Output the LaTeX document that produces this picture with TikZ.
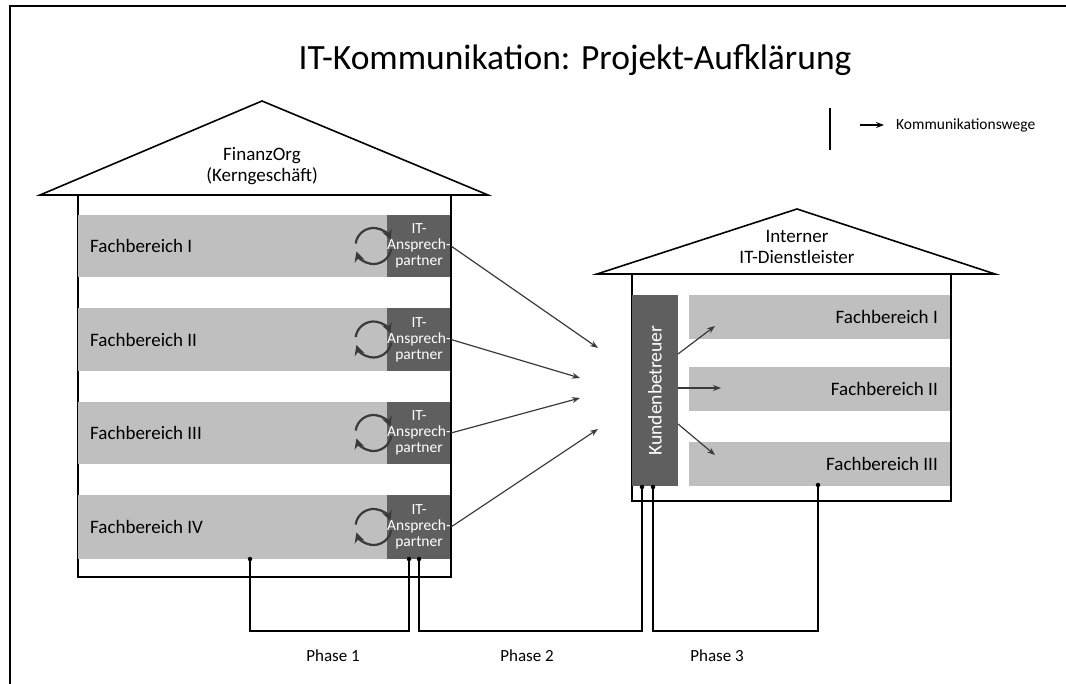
\documentclass[tikz,border=0pt]{standalone}
\usepackage{fontspec}
\setmainfont{Carlito}
\usetikzlibrary{arrows.meta,calc}
\definecolor{lightg}{HTML}{BFBFBF}
\definecolor{darkg}{HTML}{5F5F5F}
\definecolor{arrg}{HTML}{3A3A3A}
\begin{document}
\begin{tikzpicture}[x=1pt,y=-1pt,
  band/.style={fill=lightg,draw=none,inner sep=0pt,outer sep=0pt,anchor=north west},
  dbox/.style={fill=darkg,draw=none,inner sep=0pt,outer sep=0pt,anchor=north west,text=white,align=center,font=\fontsize{15.5}{16}\selectfont},
  lbl/.style={font=\fontsize{19}{21}\selectfont,inner sep=0pt},
  wall/.style={draw=black,line width=1.8pt},
  roof/.style={draw=black,line width=1.6pt,fill=white,line join=miter},
  comm/.style={draw=arrg,line width=1.2pt,-{Stealth[length=8pt,width=6pt]}},
  circ/.style={draw=arrg,line width=2.2pt,-{Stealth[length=10pt,width=10pt]}},
  phase/.style={draw=black,line width=1.6pt},
  dot/.style={circle,fill=black,inner sep=0pt,minimum size=4.5pt}
]
\useasboundingbox (0,0) rectangle (1066,684);
% outer frame (top and left)
\draw[line width=2.5pt] (10,684) -- (10,6) -- (1066,6);
% title
\node[font=\fontsize{35.5}{40}\selectfont,inner sep=0pt] (title) at (575,60) {IT-Kommunikation: Projekt-Aufklärung};
% legend
\draw[line width=1.5pt] (830,108) -- (830,150);
\coordinate (lgA) at (860,125);
\coordinate (lgB) at (884,125);
\draw[comm,draw=black] (lgA) -- (lgB);
\node[anchor=west,font=\fontsize{15.5}{17}\selectfont,inner sep=0pt] (legtext) at (896,125) {Kommunikationswege};

% ===== left house =====
\draw[wall] (78,195) rectangle (451,577);
\draw[roof] (40,195) -- (262,101) -- (488,195) -- cycle;
\node[lbl,align=center] (finorg) at (262,166) {FinanzOrg\\(Kerngeschäft)};

\foreach \i/\t/\y/\h in {1/I/215/62,2/II/308/63,3/III/402/62,4/IV/495/64}{
  \node[band,minimum width=309pt,minimum height=\h pt] (fb\i) at (78,\y) {};
  \node[lbl,anchor=west] (fbt\i) at ([xshift=12pt]fb\i.west) {Fachbereich \t};
  \node[dbox,minimum width=64pt,minimum height=\h pt] (ita\i) at (387,\y) {IT-\\Ansprech-\\partner};
  \coordinate (cc\i) at ($(fb\i.center)+(141,0)$);
  \draw[circ] ($(cc\i)+(-172:18)$) arc[start angle=-172,end angle=-20,radius=18];
  \draw[circ] ($(cc\i)+(10:18)$) arc[start angle=10,end angle=162,radius=18];
}
% redraw right wall on top of dark boxes
\draw[wall] (451,195) -- (451,577);

% communication arrows to IT service provider
\coordinate (t1) at (598,348);
\coordinate (t2) at (580,378);
\coordinate (t3) at (580,398);
\coordinate (t4) at (598,429);
\foreach \i in {1,2,3,4}{ \draw[comm] (ita\i.east) -- (t\i); }

% ===== right house =====
\draw[wall] (632,274) rectangle (951,501);
\draw[roof] (597,274) -- (797,209) -- (995,274) -- cycle;
\node[lbl,align=center] (itdl) at (797,247) {Interner\\IT-Dienstleister};

\node[band,fill=darkg,minimum width=46pt,minimum height=191pt] (kb) at (632,295) {};
\node[lbl,font=\fontsize{19.5}{21}\selectfont,rotate=90,text=white] (kbt) at (kb.center) {Kundenbetreuer};
\foreach \i/\t/\y in {1/I/295,2/II/367,3/III/442}{
  \node[band,minimum width=261pt,minimum height=44pt] (rfb\i) at (689,\y) {};
  \node[lbl,anchor=east] (rfbt\i) at ([xshift=-12pt]rfb\i.east) {Fachbereich \t};
}
\draw[wall] (951,274) -- (951,501);
\coordinate (k1) at (678,354);
\coordinate (k2) at (678,388);
\coordinate (k3) at (678,424);
\coordinate (e1) at (715,326);
\coordinate (e2) at (721,388);
\coordinate (e3) at (715,455);
\draw[comm] (k1) -- (e1);
\draw[comm] (k2) -- (e2);
\draw[comm] (k3) -- (e3);

% ===== phases =====
\coordinate (p1s) at (250,559);
\coordinate (p1e) at (409,559);
\coordinate (p2s) at (419,559);
\coordinate (p2e) at (642,487);
\coordinate (p3s) at (653,487);
\coordinate (p3e) at (818,485);
\draw[phase] (p1s) -- (p1s |- 0,631) -- (p1e |- 0,631) -- (p1e);
\draw[phase] (p2s) -- (p2s |- 0,631) -- (p2e |- 0,631) -- (p2e);
\draw[phase] (p3s) -- (p3s |- 0,631) -- (p3e |- 0,631) -- (p3e);
\foreach \p in {p1s,p1e,p2s,p2e,p3s,p3e}{ \node[dot] at (\p) {}; }
\node[font=\fontsize{17}{19}\selectfont,inner sep=0pt] (ph1) at (333,656) {Phase 1};
\node[font=\fontsize{17}{19}\selectfont,inner sep=0pt] (ph2) at (527,656) {Phase 2};
\node[font=\fontsize{17}{19}\selectfont,inner sep=0pt] (ph3) at (717,656) {Phase 3};
\end{tikzpicture}
\end{document}
